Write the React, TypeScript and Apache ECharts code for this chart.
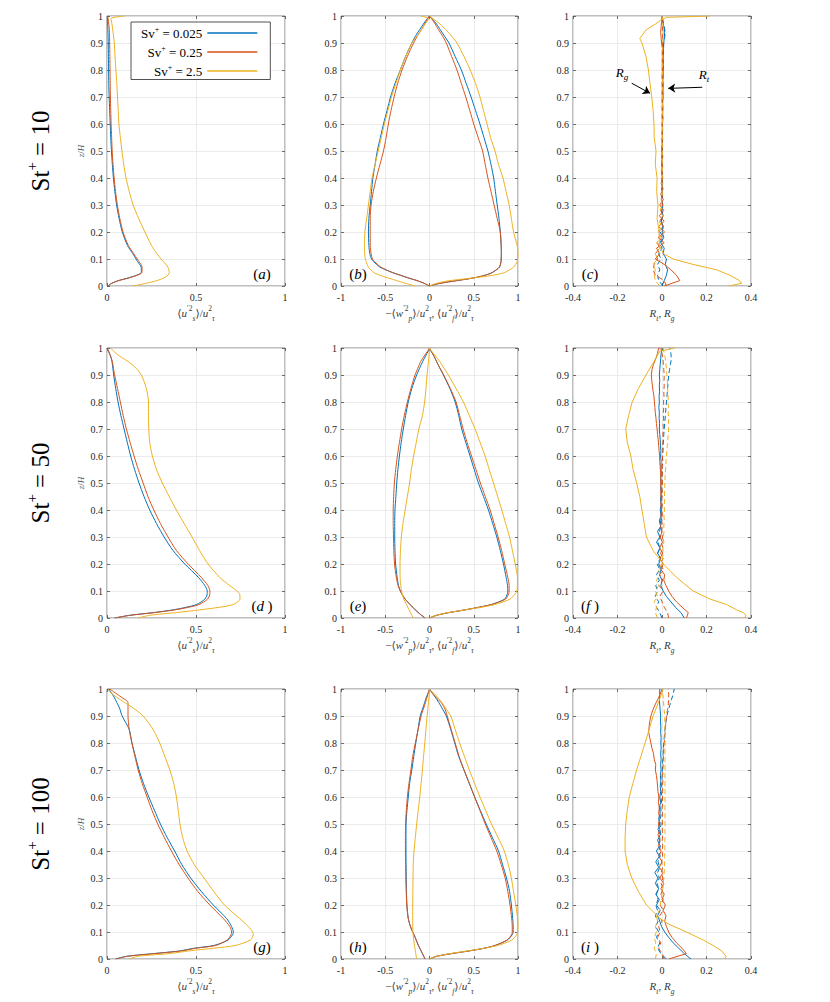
import React, { useEffect, useRef } from "react";
import * as echarts from "echarts";

const FONT = "'Liberation Serif', 'DejaVu Serif', serif";
const BLUE = "#0072BD";
const RED = "#D95319";
const YEL = "#EDB120";
const NAMES = ["Sv+ = 0.025", "Sv+ = 0.25", "Sv+ = 2.5"];
const LEGEND_VALUES = ["0.025", "0.25", "2.5"];
const ROW_LABELS = ["10", "50", "100"];
const LETTERS = ["a", "b", "c", "d ", "e", "f ", "g", "h", "i "];
const LETTER_SIDE = ["right", "left", "left", "right", "left", "left", "right", "left", "left"];

const Y_TICKS = { min: 0, max: 1, interval: 0.1 };
const X_TICKS = [
  { min: 0, max: 1, interval: 0.5 },
  { min: -1, max: 1, interval: 0.5 },
  { min: -0.4, max: 0.4, interval: 0.2 },
];

// layout (pixels)
const COLS = [
  { left: 107, width: 178 },
  { left: 341, width: 177 },
  { left: 573, width: 178 },
];
const ROWS = [16, 348, 689];
const PH = 270;

// z grid for smooth profiles
const zS = [0, 0.01, 0.02, 0.03, 0.04, 0.05, 0.07, 0.09, 0.1, 0.12, 0.15, 0.2, 0.25, 0.3, 0.35, 0.4, 0.45, 0.5, 0.55, 0.6, 0.65, 0.7, 0.75, 0.8, 0.85, 0.9, 0.93, 0.95, 0.97, 0.99, 1];

// (a)
const a_blue = [0.005, 0.026, 0.064, 0.12, 0.167, 0.193, 0.192, 0.172, 0.163, 0.145, 0.115, 0.086, 0.068, 0.054, 0.044, 0.036, 0.03, 0.025, 0.021, 0.018, 0.015, 0.012, 0.01, 0.009, 0.008, 0.007, 0.006, 0.005, 0.004, 0.003, 0.002];
const a_red = [0.005, 0.027, 0.066, 0.123, 0.17, 0.196, 0.197, 0.18, 0.17, 0.15, 0.12, 0.09, 0.072, 0.058, 0.048, 0.04, 0.034, 0.029, 0.026, 0.023, 0.021, 0.019, 0.018, 0.017, 0.016, 0.015, 0.014, 0.013, 0.01, 0.006, 0.003];
const a_yellow = [0.148, 0.22, 0.28, 0.32, 0.342, 0.35, 0.342, 0.318, 0.303, 0.28, 0.25, 0.213, 0.178, 0.147, 0.125, 0.107, 0.094, 0.084, 0.075, 0.067, 0.063, 0.059, 0.055, 0.05, 0.045, 0.041, 0.036, 0.032, 0.028, 0.022, 0.1];

// (b)
const b_blueL = [0, -0.06, -0.14, -0.24, -0.33, -0.42, -0.56, -0.63, -0.655, -0.675, -0.685, -0.69, -0.685, -0.67, -0.655, -0.64, -0.615, -0.59, -0.555, -0.52, -0.48, -0.44, -0.39, -0.33, -0.27, -0.2, -0.15, -0.11, -0.07, -0.025, 0];
const b_redL = [0, -0.06, -0.14, -0.24, -0.33, -0.42, -0.55, -0.62, -0.645, -0.66, -0.67, -0.67, -0.67, -0.66, -0.635, -0.6, -0.56, -0.52, -0.49, -0.465, -0.435, -0.4, -0.36, -0.31, -0.25, -0.18, -0.13, -0.09, -0.055, -0.02, 0];
const b_yellowL = [-0.16, -0.27, -0.37, -0.47, -0.56, -0.63, -0.69, -0.715, -0.725, -0.733, -0.735, -0.73, -0.71, -0.69, -0.67, -0.65, -0.615, -0.58, -0.545, -0.51, -0.47, -0.43, -0.38, -0.33, -0.27, -0.2, -0.13, -0.09, -0.05, -0.01, -0.1];
const b_blueR = [0, 0.12, 0.31, 0.5, 0.63, 0.71, 0.79, 0.808, 0.81, 0.812, 0.81, 0.8, 0.785, 0.765, 0.745, 0.725, 0.695, 0.66, 0.615, 0.57, 0.52, 0.47, 0.415, 0.36, 0.29, 0.22, 0.16, 0.12, 0.08, 0.03, 0];
const b_redR = [0, 0.12, 0.31, 0.5, 0.63, 0.71, 0.79, 0.808, 0.81, 0.812, 0.81, 0.8, 0.765, 0.73, 0.695, 0.66, 0.63, 0.6, 0.55, 0.5, 0.455, 0.41, 0.36, 0.31, 0.25, 0.19, 0.14, 0.1, 0.065, 0.025, 0];
const b_yellowR = [0, 0.08, 0.23, 0.5, 0.72, 0.85, 0.95, 0.99, 0.995, 1.0, 0.99, 0.95, 0.925, 0.9, 0.865, 0.83, 0.78, 0.74, 0.69, 0.65, 0.61, 0.57, 0.52, 0.46, 0.39, 0.31, 0.24, 0.18, 0.12, 0.04, 0];

// (d)
const d_blue = [0.043, 0.128, 0.26, 0.37, 0.447, 0.503, 0.55, 0.563, 0.563, 0.55, 0.514, 0.437, 0.371, 0.321, 0.278, 0.24, 0.208, 0.18, 0.155, 0.133, 0.114, 0.096, 0.078, 0.062, 0.049, 0.0375, 0.032, 0.028, 0.02, 0.008, 0];
const d_red = [0.043, 0.13, 0.268, 0.38, 0.46, 0.518, 0.565, 0.578, 0.578, 0.567, 0.53, 0.456, 0.39, 0.343, 0.3, 0.263, 0.23, 0.203, 0.176, 0.152, 0.13, 0.109, 0.091, 0.075, 0.059, 0.043, 0.035, 0.03, 0.02, 0.006, 0];
const d_yellow = [0.175, 0.24, 0.39, 0.52, 0.634, 0.709, 0.747, 0.745, 0.73, 0.69, 0.634, 0.568, 0.52, 0.478, 0.433, 0.39, 0.349, 0.311, 0.278, 0.255, 0.24, 0.235, 0.233, 0.233, 0.221, 0.193, 0.156, 0.118, 0.071, 0.034, 0.02];

// (e)
const e_blueL = [-0.05, -0.09, -0.126, -0.16, -0.19, -0.22, -0.275, -0.315, -0.33, -0.35, -0.365, -0.383, -0.39, -0.393, -0.393, -0.39, -0.38, -0.37, -0.357, -0.34, -0.32, -0.296, -0.27, -0.24, -0.2, -0.145, -0.105, -0.077, -0.045, -0.012, 0];
const e_redL = [-0.05, -0.09, -0.126, -0.16, -0.19, -0.22, -0.275, -0.315, -0.33, -0.355, -0.375, -0.395, -0.403, -0.407, -0.41, -0.41, -0.405, -0.397, -0.382, -0.363, -0.34, -0.315, -0.285, -0.25, -0.21, -0.164, -0.125, -0.1, -0.06, -0.018, 0];
const e_yellowL = [-0.183, -0.2, -0.215, -0.23, -0.245, -0.26, -0.29, -0.31, -0.315, -0.325, -0.332, -0.333, -0.328, -0.318, -0.3, -0.275, -0.25, -0.225, -0.205, -0.18, -0.15, -0.12, -0.08, -0.055, -0.04, -0.028, -0.018, -0.012, -0.006, -0.002, 0];
const e_blueR = [0, 0.08, 0.22, 0.4, 0.56, 0.7, 0.85, 0.88, 0.885, 0.882, 0.866, 0.836, 0.8, 0.76, 0.714, 0.666, 0.61, 0.553, 0.505, 0.458, 0.41, 0.364, 0.33, 0.29, 0.23, 0.157, 0.11, 0.08, 0.05, 0.015, 0];
const e_redR = [0, 0.08, 0.22, 0.4, 0.56, 0.7, 0.86, 0.895, 0.9, 0.9, 0.885, 0.85, 0.815, 0.775, 0.73, 0.685, 0.63, 0.575, 0.525, 0.475, 0.425, 0.38, 0.34, 0.3, 0.235, 0.16, 0.11, 0.08, 0.05, 0.015, 0];
const e_yellowR = [0, 0.08, 0.21, 0.4, 0.59, 0.74, 0.91, 0.97, 0.987, 0.993, 0.994, 0.968, 0.937, 0.904, 0.86, 0.817, 0.77, 0.723, 0.675, 0.628, 0.572, 0.515, 0.45, 0.383, 0.3, 0.213, 0.155, 0.115, 0.07, 0.02, 0];

// (g)
const g_blue = [0.049, 0.11, 0.26, 0.41, 0.49, 0.6, 0.68, 0.705, 0.71, 0.7, 0.672, 0.597, 0.53, 0.47, 0.42, 0.38, 0.338, 0.3, 0.267, 0.235, 0.205, 0.18, 0.16, 0.14, 0.125, 0.085, 0.07, 0.055, 0.04, 0.02, 0.01];
const g_red = [0.049, 0.115, 0.27, 0.42, 0.5, 0.61, 0.675, 0.697, 0.7, 0.69, 0.653, 0.578, 0.51, 0.455, 0.405, 0.362, 0.322, 0.285, 0.253, 0.225, 0.198, 0.175, 0.157, 0.14, 0.125, 0.118, 0.118, 0.118, 0.08, 0.037, 0.015];
const g_yellow = [0.13, 0.17, 0.35, 0.46, 0.6, 0.72, 0.805, 0.822, 0.818, 0.795, 0.745, 0.66, 0.6, 0.545, 0.49, 0.45, 0.425, 0.41, 0.4, 0.39, 0.375, 0.353, 0.325, 0.296, 0.259, 0.203, 0.146, 0.099, 0.053, 0.015, 0.006];

// (h)
const h_blueL = [-0.05, -0.065, -0.08, -0.095, -0.11, -0.125, -0.15, -0.175, -0.19, -0.215, -0.24, -0.255, -0.26, -0.263, -0.265, -0.266, -0.266, -0.265, -0.255, -0.24, -0.225, -0.2, -0.178, -0.155, -0.13, -0.105, -0.075, -0.055, -0.035, -0.01, 0];
const h_redL = [-0.05, -0.065, -0.08, -0.095, -0.11, -0.125, -0.15, -0.175, -0.19, -0.215, -0.24, -0.257, -0.263, -0.267, -0.27, -0.272, -0.272, -0.27, -0.262, -0.25, -0.232, -0.21, -0.19, -0.16, -0.128, -0.095, -0.065, -0.045, -0.028, -0.008, 0];
const h_yellowL = [-0.145, -0.15, -0.155, -0.16, -0.165, -0.17, -0.178, -0.185, -0.187, -0.19, -0.19, -0.19, -0.188, -0.186, -0.184, -0.175, -0.16, -0.145, -0.128, -0.11, -0.095, -0.08, -0.067, -0.053, -0.04, -0.027, -0.018, -0.012, -0.006, -0.002, 0];
const h_blueR = [0, 0.08, 0.25, 0.45, 0.62, 0.74, 0.88, 0.935, 0.945, 0.945, 0.94, 0.925, 0.905, 0.87, 0.825, 0.78, 0.71, 0.64, 0.575, 0.51, 0.45, 0.39, 0.33, 0.285, 0.24, 0.19, 0.14, 0.105, 0.065, 0.02, 0];
const h_redR = [0, 0.08, 0.25, 0.45, 0.62, 0.74, 0.875, 0.928, 0.935, 0.935, 0.928, 0.91, 0.885, 0.855, 0.81, 0.76, 0.695, 0.63, 0.57, 0.51, 0.45, 0.39, 0.335, 0.29, 0.245, 0.2, 0.17, 0.13, 0.07, 0.02, 0];
const h_yellowR = [0, 0.08, 0.23, 0.43, 0.62, 0.77, 0.93, 0.985, 0.995, 1.0, 0.995, 0.975, 0.95, 0.925, 0.89, 0.845, 0.775, 0.7, 0.635, 0.57, 0.51, 0.45, 0.395, 0.34, 0.29, 0.24, 0.18, 0.14, 0.09, 0.03, 0];

// z grid for the noisy R profiles
const zN = [0, 0.02, 0.04, 0.06, 0.08, 0.1, 0.12, 0.14, 0.16, 0.18, 0.2, 0.22, 0.24, 0.26, 0.28, 0.3, 0.32, 0.34, 0.36, 0.38, 0.4, 0.42, 0.44, 0.46, 0.48, 0.5, 0.52, 0.54, 0.56, 0.58, 0.6, 0.62, 0.64, 0.66, 0.68, 0.7, 0.72, 0.74, 0.76, 0.78, 0.8, 0.82, 0.84, 0.86, 0.88, 0.9, 0.92, 0.94, 0.96, 0.98, 1];

// (c)
const c_blueRg = [0.0, 0.01, 0.02, 0.025, 0.015, 0.02, 0.005, 0.01, -0.005, 0.008, 0.0, 0.006, -0.004, 0.005, 0.0, 0.004, -0.002, 0.003, 0.0, 0.003, 0.001, 0.002, 0.0, 0.002, 0.001, 0.002, 0.0, 0.003, 0.002, 0.003, 0.002, 0.004, 0.003, 0.004, 0.003, 0.005, 0.004, 0.005, 0.004, 0.005, 0.005, 0.006, 0.005, 0.006, 0.007, 0.008, 0.01, 0.012, 0.008, 0.004, 0.0];
const c_blueRt = [0.005, -0.015, -0.02, -0.01, -0.02, -0.005, -0.015, 0.0, -0.01, 0.005, -0.008, 0.004, -0.005, 0.003, -0.003, 0.002, -0.002, 0.002, -0.001, 0.002, 0.0, 0.002, 0.0, 0.001, 0.0, 0.002, 0.001, 0.002, 0.001, 0.002, 0.002, 0.003, 0.002, 0.003, 0.002, 0.003, 0.003, 0.004, 0.003, 0.004, 0.004, 0.005, 0.004, 0.005, 0.006, 0.007, 0.012, 0.015, 0.01, 0.005, 0.0];
const c_redRg = [0.01, 0.08, 0.065, 0.04, 0.01, -0.03, -0.01, -0.025, 0.01, -0.018, 0.012, -0.015, 0.01, -0.012, 0.008, -0.01, 0.006, -0.006, 0.005, -0.004, 0.004, -0.003, 0.003, -0.002, 0.004, -0.002, 0.003, 0.0, 0.002, 0.001, 0.002, 0.001, 0.002, 0.001, 0.002, 0.001, 0.002, 0.001, 0.002, 0.001, 0.002, 0.001, 0.002, 0.001, 0.002, -0.002, -0.004, -0.006, -0.004, -0.002, 0.0];
const c_redRt = [0.02, 0.01, -0.03, -0.04, -0.035, -0.02, -0.03, -0.01, -0.02, 0.0, -0.015, 0.005, -0.01, 0.004, -0.006, 0.003, -0.004, 0.002, -0.002, 0.002, -0.001, 0.002, 0.0, 0.001, 0.0, 0.001, 0.0, 0.001, 0.0, 0.001, 0.0, 0.001, 0.0, 0.001, 0.0, 0.001, 0.0, 0.001, 0.0, 0.001, 0.001, 0.002, 0.001, 0.002, 0.001, 0.002, 0.002, 0.003, 0.002, 0.001, 0.0];
const c_yellowRt = [-0.01, -0.03, -0.035, -0.03, -0.04, -0.02, -0.03, -0.01, -0.025, -0.005, -0.02, 0.0, -0.012, 0.002, -0.008, 0.0, -0.004, 0.002, -0.002, 0.001, 0.0, 0.002, 0.001, 0.002, 0.001, 0.002, 0.001, 0.002, 0.001, 0.002, 0.002, 0.002, 0.002, 0.002, 0.002, 0.002, 0.002, 0.002, 0.002, 0.002, 0.002, 0.002, 0.003, 0.003, 0.003, 0.004, 0.004, 0.005, 0.005, 0.003, 0.0];
const c_yellowRg_z = [0, 0.01, 0.02, 0.04, 0.06, 0.08, 0.1, 0.12, 0.15, 0.2, 0.25, 0.3, 0.35, 0.4, 0.45, 0.5, 0.55, 0.6, 0.65, 0.7, 0.75, 0.8, 0.85, 0.9, 0.917, 0.95, 0.97, 0.985, 0.995, 1];
const c_yellowRg = [0.3, 0.358, 0.348, 0.305, 0.245, 0.14, 0.05, 0.006, -0.012, -0.012, -0.022, -0.018, -0.024, -0.022, -0.03, -0.027, -0.035, -0.036, -0.04, -0.046, -0.054, -0.061, -0.072, -0.09, -0.1, -0.07, -0.03, -0.005, 0.02, 0.216];

// (f)
const f_blueRg = [0.1, 0.085, 0.06, 0.04, 0.02, 0.005, -0.005, 0.0, -0.012, -0.004, -0.015, -0.005, -0.02, -0.008, -0.025, -0.01, -0.02, -0.006, -0.012, -0.004, -0.008, -0.004, -0.007, -0.003, -0.006, -0.004, -0.006, -0.003, -0.005, -0.004, -0.006, -0.005, -0.007, -0.008, -0.01, -0.012, -0.011, -0.013, -0.012, -0.014, -0.012, -0.013, -0.011, -0.012, -0.01, -0.012, -0.01, -0.008, -0.006, -0.004, 0.0];
const f_blueRt = [0.0, -0.01, -0.025, -0.015, -0.03, -0.02, -0.028, -0.012, -0.025, -0.01, -0.022, -0.008, -0.02, -0.01, -0.018, -0.006, -0.012, -0.004, -0.008, -0.002, -0.005, -0.001, -0.004, 0.0, -0.002, 0.001, -0.001, 0.002, 0.0, 0.003, 0.002, 0.004, 0.005, 0.007, 0.008, 0.01, 0.012, 0.014, 0.016, 0.018, 0.02, 0.022, 0.024, 0.026, 0.028, 0.03, 0.034, 0.038, 0.042, 0.04, 0.035];
const f_redRg = [0.11, 0.118, 0.09, 0.065, 0.045, 0.03, 0.018, 0.008, 0.012, -0.005, 0.006, -0.01, 0.004, -0.012, 0.002, -0.008, 0.0, -0.006, -0.001, -0.005, -0.002, -0.005, -0.003, -0.006, -0.004, -0.006, -0.005, -0.007, -0.008, -0.01, -0.011, -0.013, -0.015, -0.017, -0.02, -0.022, -0.025, -0.027, -0.03, -0.032, -0.034, -0.036, -0.04, -0.043, -0.046, -0.048, -0.045, -0.038, -0.028, -0.02, -0.015];
const f_redRt = [0.03, 0.025, 0.01, 0.0, -0.01, 0.005, -0.012, 0.004, -0.01, 0.006, -0.008, 0.005, -0.006, 0.004, -0.004, 0.003, -0.003, 0.002, -0.002, 0.002, -0.001, 0.001, -0.001, 0.002, 0.0, 0.002, 0.0, 0.002, 0.001, 0.003, 0.002, 0.004, 0.003, 0.005, 0.004, 0.006, 0.005, 0.007, 0.006, 0.008, 0.007, 0.009, 0.008, 0.01, 0.009, 0.01, 0.008, 0.006, 0.004, 0.0, -0.01];
const f_yellowRt = [-0.02, -0.03, -0.025, -0.035, -0.02, -0.03, -0.015, -0.025, -0.01, -0.015, 0.0, 0.002, 0.005, 0.004, 0.008, 0.006, 0.009, 0.008, 0.01, 0.009, 0.011, 0.01, 0.012, 0.011, 0.013, 0.012, 0.014, 0.015, 0.017, 0.018, 0.02, 0.022, 0.024, 0.026, 0.028, 0.03, 0.029, 0.03, 0.028, 0.029, 0.027, 0.028, 0.026, 0.025, 0.024, 0.022, 0.02, 0.018, 0.015, 0.01, 0.005];
const f_yellowRg_z = [0, 0.01, 0.02, 0.03, 0.05, 0.07, 0.1, 0.15, 0.2, 0.25, 0.3, 0.35, 0.4, 0.45, 0.5, 0.55, 0.6, 0.65, 0.7, 0.75, 0.8, 0.85, 0.9, 0.95, 0.988, 1];
const f_yellowRg = [0.37, 0.378, 0.365, 0.336, 0.29, 0.216, 0.14, 0.066, 0.006, -0.04, -0.07, -0.08, -0.09, -0.1, -0.114, -0.13, -0.14, -0.156, -0.163, -0.15, -0.134, -0.106, -0.072, -0.036, -0.01, 0.058];

// (i)
const i_blueRg = [0.13, 0.1, 0.075, 0.05, 0.03, 0.012, -0.002, -0.01, -0.02, -0.008, -0.025, -0.012, -0.028, -0.015, -0.03, -0.018, -0.032, -0.015, -0.028, -0.012, -0.025, -0.01, -0.02, -0.008, -0.018, -0.01, -0.015, -0.008, -0.012, -0.006, -0.01, -0.006, -0.008, -0.005, -0.007, -0.004, -0.006, -0.004, -0.006, -0.004, -0.005, -0.004, -0.006, -0.005, -0.007, -0.006, -0.008, -0.01, -0.012, -0.01, -0.01];
const i_blueRt = [0.02, -0.005, -0.02, -0.01, -0.025, -0.015, -0.028, -0.018, -0.03, -0.02, -0.028, -0.018, -0.025, -0.015, -0.022, -0.012, -0.02, -0.01, -0.018, -0.008, -0.015, -0.006, -0.012, -0.005, -0.01, -0.004, -0.008, -0.003, -0.006, -0.002, -0.004, -0.001, -0.002, 0.0, 0.0, 0.002, 0.002, 0.004, 0.005, 0.006, 0.008, 0.01, 0.012, 0.015, 0.018, 0.022, 0.028, 0.035, 0.042, 0.05, 0.055];
const i_redRg = [0.03, 0.11, 0.09, 0.065, 0.045, 0.03, 0.02, 0.012, 0.018, 0.005, 0.015, 0.0, 0.01, -0.005, 0.008, -0.01, 0.004, -0.012, 0.0, -0.014, -0.004, -0.016, -0.008, -0.018, -0.01, -0.016, -0.01, -0.015, -0.012, -0.016, -0.014, -0.018, -0.02, -0.022, -0.025, -0.03, -0.028, -0.035, -0.038, -0.045, -0.05, -0.055, -0.06, -0.058, -0.055, -0.05, -0.042, -0.032, -0.02, -0.008, 0.0];
const i_redRt = [0.01, 0.0, -0.015, -0.005, -0.02, -0.008, -0.015, 0.0, -0.01, 0.005, -0.008, 0.006, -0.005, 0.005, -0.004, 0.004, -0.003, 0.003, -0.002, 0.003, 0.0, 0.003, 0.001, 0.003, 0.001, 0.002, 0.001, 0.002, 0.001, 0.003, 0.002, 0.003, 0.002, 0.004, 0.003, 0.004, 0.005, 0.006, 0.007, 0.008, 0.01, 0.012, 0.014, 0.016, 0.018, 0.02, 0.024, 0.028, 0.03, 0.03, 0.028];
const i_yellowRt = [-0.03, -0.025, -0.035, -0.028, -0.035, -0.025, -0.03, -0.02, -0.025, -0.012, -0.008, -0.004, 0.0, 0.004, 0.006, 0.008, 0.01, 0.011, 0.012, 0.012, 0.013, 0.013, 0.013, 0.014, 0.013, 0.014, 0.013, 0.014, 0.013, 0.014, 0.013, 0.014, 0.013, 0.014, 0.013, 0.014, 0.013, 0.014, 0.013, 0.014, 0.013, 0.014, 0.013, 0.013, 0.013, 0.012, 0.01, 0.008, 0.006, 0.004, 0.0];
const i_yellowRg_z = [0, 0.01, 0.03, 0.05, 0.07, 0.1, 0.13, 0.15, 0.2, 0.25, 0.3, 0.35, 0.4, 0.45, 0.5, 0.55, 0.6, 0.65, 0.7, 0.75, 0.8, 0.85, 0.9, 0.95, 1];
const i_yellowRg = [0.283, 0.288, 0.268, 0.23, 0.186, 0.11, 0.028, -0.009, -0.07, -0.106, -0.136, -0.156, -0.166, -0.166, -0.163, -0.156, -0.147, -0.131, -0.114, -0.095, -0.076, -0.058, -0.04, -0.016, 0.005];

// annotations of panel (c), in data coordinates
const ARROWS = [
  { from: [-0.136, 0.751], to: [-0.054, 0.714] },
  { from: [0.181, 0.736], to: [0.028, 0.732] },
];
const ARROW_LABELS = [
  { sub: "g", at: [-0.18, 0.789] },
  { sub: "t", at: [0.189, 0.785] },
];

const TXT = "#262626";
const NAME_C = "#3a3a3a";

const axisRich = {
  i: { fontFamily: FONT, fontSize: 11, fontStyle: "italic", color: NAME_C, lineHeight: 18 },
  r: { fontFamily: FONT, fontSize: 11, color: NAME_C, lineHeight: 18 },
  p: { fontFamily: FONT, fontSize: 7.5, color: NAME_C, verticalAlign: "top" },
  s: { fontFamily: FONT, fontSize: 7.5, fontStyle: "italic", color: NAME_C, verticalAlign: "bottom" },
};

const X_NAMES = [
  "{r|⟨}{i|u}{p|′2}{s|s}{r|⟩/}{i|u}{p|2}{s|τ}",
  "{r|−⟨}{i|w}{p|′2}{s|p}{r|⟩/}{i|u}{p|2}{s|τ}{r|, ⟨}{i|u}{p|′2}{s|f}{r|⟩/}{i|u}{p|2}{s|τ}",
  "{i|R}{s|t}{r|, }{i|R}{s|g}",
];

function lineSeries(g: number, name: string, color: string, xs: number[], zs: number[], dashed = false, smooth: number | boolean = 0.25) {
  const n = Math.min(xs.length, zs.length);
  const data: number[][] = [];
  for (let k = 0; k < n; k++) data.push([xs[k], zs[k]]);
  return {
    type: "line",
    name,
    xAxisIndex: 2 * g,
    yAxisIndex: 2 * g,
    data,
    showSymbol: false,
    symbol: "none",
    smooth: dashed ? false : smooth,
    lineStyle: { color, width: 1, type: dashed ? [5, 3] : "solid" },
    itemStyle: { color },
    emphasis: { disabled: true },
    silent: true,
    animation: false,
  } as any;
}

function buildOption() {
  const grid: any[] = [];
  const xAxis: any[] = [];
  const yAxis: any[] = [];
  const tick = { show: true, inside: true, length: 3, lineStyle: { color: "#4a4a4a", width: 0.8 } };
  for (let g = 0; g < 9; g++) {
    const r = Math.floor(g / 3);
    const c = g % 3;
    grid.push({
      left: COLS[c].left,
      top: ROWS[r],
      width: COLS[c].width,
      height: PH,
      show: true,
      borderColor: "#5e5e5e",
      borderWidth: 0.8,
      backgroundColor: "#ffffff",
    });
    const xt = X_TICKS[c];
    xAxis.push({
      gridIndex: g,
      type: "value",
      position: "bottom",
      min: xt.min,
      max: xt.max,
      interval: xt.interval,
      axisLine: { show: false, onZero: false },
      axisTick: tick,
      axisLabel: { margin: 6, fontFamily: FONT, fontSize: 10, color: TXT },
      splitLine: { show: true, lineStyle: { color: "#e6e6e6", width: 0.8 } },
      name: X_NAMES[c],
      nameLocation: "middle",
      nameGap: 18,
      nameTextStyle: { fontFamily: FONT, fontSize: 11, color: NAME_C, rich: axisRich },
    });
    xAxis.push({
      gridIndex: g,
      type: "value",
      position: "top",
      min: xt.min,
      max: xt.max,
      interval: xt.interval,
      axisLine: { show: false, onZero: false },
      axisTick: tick,
      axisLabel: { show: false },
      splitLine: { show: false },
    });
    yAxis.push({
      gridIndex: g,
      type: "value",
      position: "left",
      min: Y_TICKS.min,
      max: Y_TICKS.max,
      interval: Y_TICKS.interval,
      axisLine: { show: false, onZero: false },
      axisTick: tick,
      axisLabel: { margin: 4, fontFamily: FONT, fontSize: 10, color: TXT },
      splitLine: { show: true, lineStyle: { color: "#e6e6e6", width: 0.8 } },
      name: c === 0 ? "{i|z}{r|/}{i|H}" : "",
      nameLocation: "middle",
      nameGap: 22,
      nameTextStyle: {
        fontFamily: FONT,
        fontSize: 9,
        color: "#555",
        rich: {
          i: { fontFamily: FONT, fontSize: 9, fontStyle: "italic", color: "#555" },
          r: { fontFamily: FONT, fontSize: 9, color: "#555" },
        },
      },
    });
    yAxis.push({
      gridIndex: g,
      type: "value",
      position: "right",
      min: Y_TICKS.min,
      max: Y_TICKS.max,
      interval: Y_TICKS.interval,
      axisLine: { show: false, onZero: false },
      axisTick: tick,
      axisLabel: { show: false },
      splitLine: { show: false },
    });
  }

  const [NB, NR, NY] = NAMES;
  const series: any[] = [];
  // (a)
  series.push(lineSeries(0, NB, BLUE, a_blue, zS));
  series.push(lineSeries(0, NR, RED, a_red, zS));
  series.push(lineSeries(0, NY, YEL, a_yellow, zS));
  // (b)
  series.push(lineSeries(1, NB, BLUE, b_blueL, zS));
  series.push(lineSeries(1, NB, BLUE, b_blueR, zS));
  series.push(lineSeries(1, NR, RED, b_redL, zS));
  series.push(lineSeries(1, NR, RED, b_redR, zS));
  series.push(lineSeries(1, NY, YEL, b_yellowL, zS));
  series.push(lineSeries(1, NY, YEL, b_yellowR, zS));
  // (c)
  series.push(lineSeries(2, NB, BLUE, c_blueRt, zN, true));
  series.push(lineSeries(2, NB, BLUE, c_blueRg, zN, false, false));
  series.push(lineSeries(2, NR, RED, c_redRt, zN, true));
  series.push(lineSeries(2, NR, RED, c_redRg, zN, false, false));
  series.push(lineSeries(2, NY, YEL, c_yellowRt, zN, true));
  const cy = lineSeries(2, NY, YEL, c_yellowRg, c_yellowRg_z, false, false);
  cy.markLine = {
    silent: true,
    animation: false,
    symbol: ["none", "arrow"],
    symbolSize: 7,
    label: { show: false },
    lineStyle: { color: "#000", width: 1, type: "solid" },
    emphasis: { disabled: true },
    data: ARROWS.map((a) => [{ coord: a.from }, { coord: a.to }]),
  };
  cy.markPoint = {
    silent: true,
    animation: false,
    symbol: "circle",
    symbolSize: 1,
    itemStyle: { color: "rgba(0,0,0,0)" },
    label: {
      show: true,
      position: "inside",
      formatter: (p: any) => `{i|R}{s|${p.name}}`,
      rich: {
        i: { fontFamily: FONT, fontSize: 13, fontStyle: "italic", color: "#000", lineHeight: 18 },
        s: { fontFamily: FONT, fontSize: 9, fontStyle: "italic", color: "#000", verticalAlign: "bottom" },
      },
    },
    data: ARROW_LABELS.map((l) => ({ name: l.sub, coord: l.at })),
  };
  series.push(cy);
  // (d)
  series.push(lineSeries(3, NB, BLUE, d_blue, zS));
  series.push(lineSeries(3, NR, RED, d_red, zS));
  series.push(lineSeries(3, NY, YEL, d_yellow, zS));
  // (e)
  series.push(lineSeries(4, NB, BLUE, e_blueL, zS));
  series.push(lineSeries(4, NB, BLUE, e_blueR, zS));
  series.push(lineSeries(4, NR, RED, e_redL, zS));
  series.push(lineSeries(4, NR, RED, e_redR, zS));
  series.push(lineSeries(4, NY, YEL, e_yellowL, zS));
  series.push(lineSeries(4, NY, YEL, e_yellowR, zS));
  // (f)
  series.push(lineSeries(5, NB, BLUE, f_blueRt, zN, true));
  series.push(lineSeries(5, NB, BLUE, f_blueRg, zN, false, false));
  series.push(lineSeries(5, NR, RED, f_redRt, zN, true));
  series.push(lineSeries(5, NR, RED, f_redRg, zN, false, false));
  series.push(lineSeries(5, NY, YEL, f_yellowRt, zN, true));
  series.push(lineSeries(5, NY, YEL, f_yellowRg, f_yellowRg_z, false, false));
  // (g)
  series.push(lineSeries(6, NB, BLUE, g_blue, zS));
  series.push(lineSeries(6, NR, RED, g_red, zS));
  series.push(lineSeries(6, NY, YEL, g_yellow, zS));
  // (h)
  series.push(lineSeries(7, NB, BLUE, h_blueL, zS));
  series.push(lineSeries(7, NB, BLUE, h_blueR, zS));
  series.push(lineSeries(7, NR, RED, h_redL, zS));
  series.push(lineSeries(7, NR, RED, h_redR, zS));
  series.push(lineSeries(7, NY, YEL, h_yellowL, zS));
  series.push(lineSeries(7, NY, YEL, h_yellowR, zS));
  // (i)
  series.push(lineSeries(8, NB, BLUE, i_blueRt, zN, true));
  series.push(lineSeries(8, NB, BLUE, i_blueRg, zN, false, false));
  series.push(lineSeries(8, NR, RED, i_redRt, zN, true));
  series.push(lineSeries(8, NR, RED, i_redRg, zN, false, false));
  series.push(lineSeries(8, NY, YEL, i_yellowRt, zN, true));
  series.push(lineSeries(8, NY, YEL, i_yellowRg, i_yellowRg_z, false, false));

  const graphic: any[] = [];
  // row labels
  ROW_LABELS.forEach((v, r) => {
    graphic.push({
      type: "text",
      x: 40,
      y: ROWS[r] + PH / 2,
      rotation: Math.PI / 2,
      silent: true,
      style: {
        text: `{a|St}{p|+}{a| = ${v}}`,
        align: "center",
        verticalAlign: "middle",
        textAlign: "center",
        textVerticalAlign: "middle",
        fill: "#000",
        rich: {
          a: { fontFamily: FONT, fontSize: 25, fill: "#000", color: "#000", lineHeight: 32 },
          p: { fontFamily: FONT, fontSize: 15, fill: "#000", color: "#000", verticalAlign: "top" },
        },
      },
    });
  });
  // panel letters
  LETTERS.forEach((L, g) => {
    const r = Math.floor(g / 3);
    const c = g % 3;
    const x = LETTER_SIDE[g] === "right" ? COLS[c].left + COLS[c].width - 23 : COLS[c].left + 17;
    graphic.push({
      type: "text",
      x,
      y: ROWS[r] + PH - 12,
      silent: true,
      z: 100,
      style: {
        text: `{r|(}{i|${L}}{r|)}`,
        align: "center",
        verticalAlign: "middle",
        textAlign: "center",
        textVerticalAlign: "middle",
        fill: "#000",
        rich: {
          r: { fontFamily: FONT, fontSize: 15, fill: "#000", color: "#000" },
          i: { fontFamily: FONT, fontSize: 15, fontStyle: "italic", fill: "#000", color: "#000" },
        },
      },
    });
  });

  return {
    animation: false,
    backgroundColor: "#ffffff",
    grid,
    xAxis,
    yAxis,
    series,
    graphic,
    legend: {
      show: true,
      data: NAMES,
      left: 131,
      top: 22,
      orient: "vertical",
      align: "right",
      icon: "rect",
      itemWidth: 50,
      itemHeight: 1.5,
      itemGap: 4.5,
      padding: [3, 13, 2, 10],
      borderColor: "#262626",
      borderWidth: 0.8,
      backgroundColor: "#ffffff",
      selectedMode: false,
      z: 50,
      formatter: (n: string) => {
        const idx = NAMES.indexOf(n);
        return `{a|Sv}{p|+}{a| = ${LEGEND_VALUES[idx]}}`;
      },
      textStyle: {
        width: 70,
        fontFamily: FONT,
        fontSize: 13,
        color: "#000",
        rich: {
          a: { fontFamily: FONT, fontSize: 13, color: "#000", lineHeight: 16 },
          p: { fontFamily: FONT, fontSize: 8, color: "#000", verticalAlign: "top" },
        },
      },
    },
  };
}

export default function App() {
  const ref = useRef<HTMLDivElement>(null);
  useEffect(() => {
    if (!ref.current) return;
    const chart = echarts.init(ref.current, undefined, { renderer: "svg" });
    chart.setOption(buildOption() as any);
    return () => {
      chart.dispose();
    };
  }, []);
  return (
    <div
      ref={ref}
      style={{ position: "fixed", left: 0, top: 0, width: 830, height: 1002, background: "#fff" }}
    />
  );
}
